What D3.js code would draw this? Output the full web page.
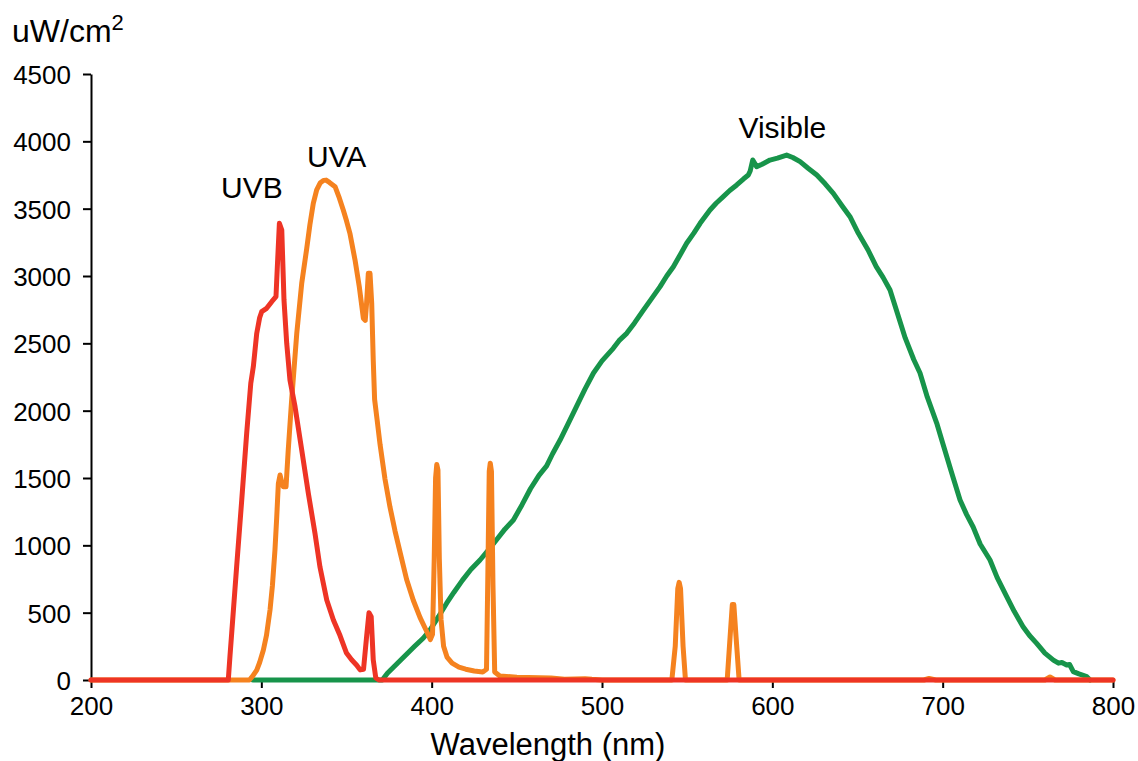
<!DOCTYPE html>
<html>
<head>
<meta charset="utf-8">
<script src="https://cdn.jsdelivr.net/npm/d3@7"></script>
<style>
  html, body { margin: 0; padding: 0; background: #fff; }
  svg { display: block; font-family: "Liberation Sans", Arial, Helvetica, sans-serif; }
</style>
</head>
<body>
<svg id="chart" width="1138" height="761"></svg>
<script>
// ---- data (wavelength nm, irradiance uW/cm2) ----
const xTicks = [200, 300, 400, 500, 600, 700, 800];
const yTicks = [0, 500, 1000, 1500, 2000, 2500, 3000, 3500, 4000, 4500];

const uvbNm = [200,280.6,281.6,282.6,285.5,288.5,291.4,293.8,295.3,297.3,299,300.2,303.1,306.1,308.6,309.4,310.6,312,313.3,314.9,316.8,319.8,323.7,327.6,331.5,334.4,338.4,342.3,346.2,350,353,356,358,360,361.9,363.2,364.5,365.7,367.2,369,800];
const uvbValues = [0,0,180,348,841,1337,1832,2203,2327,2574,2690,2735,2760,2809,2846,3069,3391,3341,2822,2500,2228,2029,1708,1386,1089,841,594,446,330,200,150,110,75,80,335,500,470,150,15,0,0];

const uvaNm = [200,293,295,297.3,299,301.2,303,305.1,306.5,308,309,310,311,312,312.9,314.5,315.8,317.8,320.8,323.7,326.6,328.5,330.5,332.5,334.5,336.5,338,340,343.3,345.5,348.1,350,352,355,357.5,359.9,361,361.8,362.8,363.8,364.8,365.7,366.5,368,369.7,372.6,375.5,378.5,381.4,385.3,389.2,393.2,397.1,399.2,400.5,401.5,402.3,403,403.7,404.5,405.5,407,409,412,416,420,425,430,432.2,433,433.8,434.4,435.1,436,437,440,450,470,478,490,494,500,541,543,544.5,545.3,546.1,547.6,549,573.5,575.2,576.5,577.4,578.7,580.5,689,692,696,760,763,766,800];
const uvaValues = [0,0,30,74,130,223,330,520,700,965,1200,1460,1522,1470,1435,1435,1708,2079,2574,2945,3200,3380,3540,3640,3690,3710,3712,3695,3663,3590,3490,3410,3317,3119,2921,2686,2670,2800,3020,3020,2797,2376,2084,1929,1749,1492,1286,1106,952,746,592,463,360,300,340,900,1500,1600,1560,900,450,250,170,125,95,80,67,60,80,800,1550,1610,1550,700,60,30,20,15,5,10,5,0,0,250,680,725,680,250,0,0,320,560,560,320,0,0,12,0,0,22,0,0];

const visNm = [295,371,374,378,382,386,390,395,399,404,408.8,413,418,423,428.4,433,438,443,448,453,458,463,467.5,471,475.4,480,485,490,495,500,506.6,510,514.5,519,524.3,529,534.1,538,541.9,546,549.7,554,557.6,563.4,567,571.2,575,579.1,583,585.9,587,588.5,590.8,594,598.6,603,608.4,612,616.3,621,626.1,631,635.8,641,645.6,650.5,656.2,661,665,669.1,673,678,683,686.7,691,696.5,700,705,710.2,714,717.9,722,727.8,732,737.6,742,747.2,751,755.2,760,765,768,770,772.8,774.5,776.7,780,784.6,786.5];
const visValues = [0,0,50,100,150,200,250,310,371,470,570,650,740,820,891,960,1040,1120,1188,1300,1420,1520,1590,1680,1782,1900,2030,2160,2280,2370,2463,2520,2574,2650,2747,2830,2921,3000,3069,3160,3243,3320,3391,3490,3540,3589,3635,3676,3720,3750,3780,3861,3812,3830,3861,3875,3898,3880,3849,3800,3750,3685,3614,3520,3440,3317,3193,3070,2990,2896,2740,2540,2380,2280,2100,1908,1760,1550,1337,1230,1136,1010,891,760,619,510,396,330,272,200,148,125,130,111,115,62,45,25,0];

const seriesLabels = ["UVB", "UVA", "Visible"];
const labelAt = [[294.5, 3579], [344.2, 3809], [605.9, 4025]]; // label anchor in data units (nm, value)

// ---- drawing ----
const svg = d3.select("#chart");
const x = d3.scaleLinear().domain([200, 800]).range([91, 1113]);
const y = d3.scaleLinear().domain([0, 4500]).range([680, 74]);

const colors = { uvb: "#ee3425", uva: "#f5821f", vis: "#17944a" };

// axes
const gx = svg.append("g").attr("transform", "translate(0,680)")
  .call(d3.axisBottom(x).tickValues(xTicks).tickSize(8).tickSizeOuter(0).tickPadding(9).tickFormat(d3.format("d")));
const gy = svg.append("g").attr("transform", "translate(91,0)")
  .call(d3.axisLeft(y).tickValues(yTicks).tickSize(8).tickSizeOuter(0).tickPadding(12).tickFormat(d3.format("d")));

[gx, gy].forEach(g => {
  g.select(".domain").attr("stroke", "#000").attr("stroke-width", 2);
  g.selectAll(".tick line").attr("stroke", "#000").attr("stroke-width", 2);
  g.selectAll(".tick text").attr("fill", "#000").style("font-size", "26px")
    .style("font-family", '"Liberation Sans", Arial, Helvetica, sans-serif');
});
gy.selectAll(".tick text").attr("dy", "0.36em");

// series
const line = d3.line().x(d => x(d[0])).y(d => y(d[1]));
const zipPts = (a, b) => a.map((v, i) => [v, b[i]]);

const series = [
  { key: "vis", pts: zipPts(visNm, visValues) },
  { key: "uva", pts: zipPts(uvaNm, uvaValues) },
  { key: "uvb", pts: zipPts(uvbNm, uvbValues) }
];
svg.append("g").selectAll("path").data(series).join("path")
  .attr("d", d => line(d.pts))
  .attr("fill", "none")
  .attr("stroke", d => colors[d.key])
  .attr("stroke-width", 5)
  .attr("stroke-linejoin", "round")
  .attr("stroke-linecap", "round");

// series labels
svg.append("g").selectAll("text").data(seriesLabels).join("text")
  .attr("x", (d, i) => x(labelAt[i][0]))
  .attr("y", (d, i) => y(labelAt[i][1]))
  .attr("text-anchor", "middle")
  .style("font-size", "30px")
  .attr("fill", "#000")
  .text(d => d);

// axis titles
svg.append("text")
  .attr("x", 12).attr("y", 42)
  .style("font-size", "32px").attr("fill", "#000")
  .text("uW/cm")
  .append("tspan").attr("dy", -12).style("font-size", "22px").text("2");

svg.append("text")
  .attr("x", 548).attr("y", 755)
  .attr("text-anchor", "middle")
  .style("font-size", "31px").attr("fill", "#000")
  .text("Wavelength (nm)");
</script>
</body>
</html>
